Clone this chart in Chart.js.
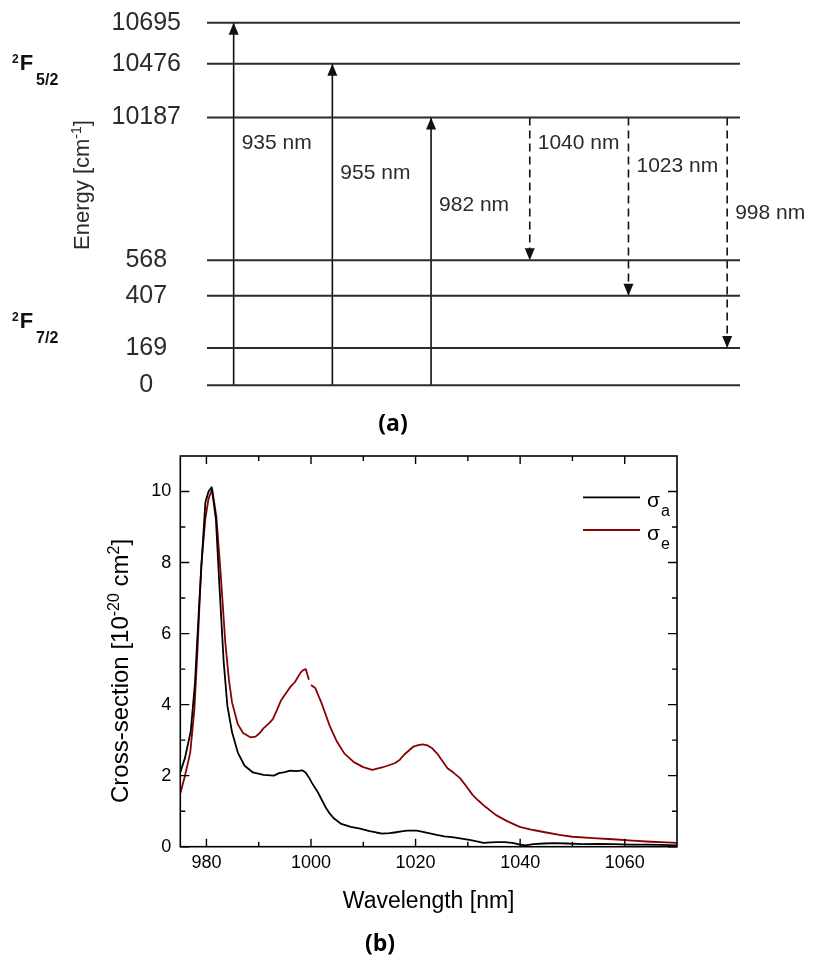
<!DOCTYPE html>
<html>
<head>
<meta charset="utf-8">
<script src="https://cdn.jsdelivr.net/npm/chart.js@4.4.1/dist/chart.umd.min.js"></script>
<style>
  html, body { margin: 0; padding: 0; background: #fff; }
  body { width: 822px; height: 956px; position: relative; overflow: hidden; }
  #wrapA { position: absolute; left: 0; top: 0; width: 822px; height: 410px; }
  #wrapB { position: absolute; left: 0; top: 440px; width: 822px; height: 516px; }
  .panel-tag {
    position: absolute; transform: translate(-50%, -50%);
    font-family: "Open Sans", "Liberation Sans", sans-serif; font-weight: 700; font-size: 23px; color: #000;
  }
</style>
</head>
<body>
<div id="wrapA"><canvas id="levels" width="822" height="410"></canvas></div>
<div id="wrapB"><canvas id="spectra" width="822" height="516"></canvas></div>
<div class="panel-tag" style="left:393px; top:422px;">(a)</div>
<div class="panel-tag" style="left:380px; top:942px;">(b)</div>

<script>
const FONT = '"Liberation Sans", Arial, sans-serif';

// ---------- Yb3+ Stark levels, cm^-1 ----------
const levelEnergies = [0, 169, 407, 568, 10187, 10476, 10695];
const manifoldTerms = ['5/2', '7/2'];
const manifoldLevels = [[10187, 10476, 10695], [0, 169, 407, 568]];

// ---------- transitions between the levels ----------
const transitionLabels = ['935 nm', '955 nm', '982 nm', '1040 nm', '1023 nm', '998 nm'];
const transitionFrom = [0, 0, 0, 10187, 10187, 10187];
const transitionTo = [10695, 10476, 10187, 568, 407, 169];
const transitionEmission = [false, false, false, true, true, true];

// ---------- absorption (sigma_a) and emission (sigma_e) cross-sections, 1e-20 cm^2 ----------
const wavelengthAbs = [975, 975.9, 977.0, 977.8, 978.6, 979.2, 979.8, 980.4, 981.0, 981.8, 982.5, 983.3, 984.0,
  984.9, 986.0, 987.3, 988.9, 990.9, 992.9, 993.9, 995.0, 996.0, 997.2, 998.4, 999.0, 999.6, 1000.2, 1001.4,
  1002.2, 1002.9, 1003.6, 1004.35, 1005.8, 1007.6, 1009.4, 1011.2, 1012.5, 1013.6, 1015.0, 1016.0, 1017.3,
  1018.4, 1020.2, 1021.4, 1022.5, 1024.0, 1025.5, 1027.3, 1028.8, 1030.3, 1031.7, 1033.0, 1034.4, 1035.7,
  1037.0, 1038.5, 1040.0, 1041.0, 1042.5, 1044.5, 1046.5, 1049.0, 1052.0, 1055.0, 1058.0, 1061.0, 1064.0,
  1067.0, 1070.0];
const sigmaAbs = [2.1, 2.5, 3.25, 4.6, 6.8, 8.3, 9.7, 10.0, 10.12, 9.24, 7.3, 5.2, 3.97,
  3.22, 2.65, 2.28, 2.09, 2.02, 2.0, 2.07, 2.1, 2.14, 2.13, 2.15, 2.08, 1.95, 1.79, 1.51,
  1.28, 1.08, 0.93, 0.8, 0.64, 0.56, 0.51, 0.44, 0.4, 0.37, 0.38, 0.4, 0.43,
  0.45, 0.45, 0.42, 0.38, 0.33, 0.29, 0.26, 0.23, 0.19, 0.15, 0.11, 0.12, 0.13,
  0.13, 0.11, 0.06, 0.04, 0.07, 0.09, 0.1, 0.09, 0.07, 0.08, 0.07, 0.06, 0.06,
  0.05, 0.04];

const wavelengthEm = [975, 975.9, 976.9, 977.7, 978.3, 979.0, 979.8, 980.4, 981.1, 981.9, 982.7, 983.6, 984.3,
  984.9, 986.0, 987.0, 988.4, 989.4, 990.2, 990.9, 992.0, 992.7, 993.5, 994.2, 995.1, 996.0, 996.9, 998.0,
  998.5, 999.0, 999.3, 999.6, 999.8, 1000.0, 1000.8, 1002.0, 1002.8, 1003.5, 1004.2, 1004.95, 1006.4, 1008.2,
  1010.0, 1011.7, 1013.6, 1016.0, 1017.0, 1017.8, 1019.6, 1020.5, 1021.35, 1022.3, 1023.1, 1024.3, 1025.2,
  1026.1, 1027.3, 1028.5, 1029.7, 1030.9, 1032.0, 1033.3, 1035.4, 1037.5, 1039.9, 1042.5, 1045.0, 1047.5,
  1050.0, 1054.0, 1057.7, 1061.5, 1065.0, 1068.0, 1070.0];
const sigmaEm = [1.5, 2.0, 2.65, 3.88, 5.57, 7.9, 9.24, 9.8, 10.06, 9.29, 7.73, 5.76, 4.7,
  4.06, 3.45, 3.2, 3.08, 3.1, 3.2, 3.33, 3.48, 3.59, 3.85, 4.1, 4.3, 4.49, 4.63, 4.9,
  4.97, 5.0, 4.85, 4.7, null, 4.55, 4.47, 4.05, 3.72, 3.43, 3.2, 2.96, 2.62, 2.38,
  2.24, 2.16, 2.23, 2.35, 2.45, 2.59, 2.82, 2.86, 2.88, 2.85, 2.78, 2.59, 2.4,
  2.21, 2.08, 1.93, 1.7, 1.46, 1.3, 1.13, 0.89, 0.72, 0.56, 0.47, 0.4, 0.33,
  0.28, 0.24, 0.21, 0.17, 0.14, 0.12, 0.11];

const seriesSubscripts = ['a', 'e'];
const wavelengthTicks = [980, 1000, 1020, 1040, 1060];
const wavelengthMinorTicks = [990, 1010, 1030, 1050];
const sigmaTicks = [0, 2, 4, 6, 8, 10];
const sigmaMinorTicks = [1, 3, 5, 7, 9];

// ---------- layout / style ----------
const ENERGY_SEGMENTS = [            // broken energy axis: lower manifold, then upper manifold
  { min: -40, max: 887, weight: 204 },
  { min: 9799, max: 10731.5, weight: 174 }
];
const DIAGRAM_X = { min: -0.27, max: 5.13 };
const LABEL_ALONG = [0.332, 0.34, 0.327, 0.178, 0.272, 0.414];  // label height along each arrow
const DARK = '#2b2b2b';

// rich text: parts drawn one after another on a common baseline
function drawRich(ctx, parts, x, y, opt) {
  ctx.save();
  ctx.translate(x, y);
  if (opt.rotate) ctx.rotate(opt.rotate);
  const fam = opt.family || FONT;
  const fontOf = p => `${p.weight || 'normal'} ${p.size}px ${fam}`;
  let total = 0;
  const widths = parts.map(p => { ctx.font = fontOf(p); const w = ctx.measureText(p.text).width + (p.dx || 0); total += w; return w; });
  let cx = opt.align === 'center' ? -total / 2 : 0;
  ctx.fillStyle = opt.color || '#000';
  ctx.textAlign = 'left';
  ctx.textBaseline = 'alphabetic';
  parts.forEach((p, i) => { ctx.font = fontOf(p); ctx.fillText(p.text, cx + (p.dx || 0), p.dy || 0); cx += widths[i]; });
  ctx.restore();
}

// linear scale with a break between the two manifolds
class BrokenLinearScale extends Chart.LinearScale {
  static id = 'brokenLinear';
  static defaults = {};
  _fraction(value) {
    const total = ENERGY_SEGMENTS.reduce((s, g) => s + g.weight, 0);
    let acc = 0;
    for (let i = 0; i < ENERGY_SEGMENTS.length; i++) {
      const g = ENERGY_SEGMENTS[i];
      if (value <= g.max || i === ENERGY_SEGMENTS.length - 1) {
        const v = Math.max(value, g.min);
        return (acc + (v - g.min) / (g.max - g.min) * g.weight) / total;
      }
      acc += g.weight;
    }
    return 1;
  }
  getPixelForValue(value) {
    if (value === null || value === undefined || isNaN(value)) return NaN;
    return this.bottom - this._fraction(value) * (this.bottom - this.top);
  }
  getValueForPixel(pixel) {
    const f = (this.bottom - pixel) / (this.bottom - this.top);
    const total = ENERGY_SEGMENTS.reduce((s, g) => s + g.weight, 0);
    let acc = 0;
    for (let i = 0; i < ENERGY_SEGMENTS.length; i++) {
      const g = ENERGY_SEGMENTS[i];
      const w = g.weight / total;
      if (f <= acc + w || i === ENERGY_SEGMENTS.length - 1) return g.min + (f - acc) / w * (g.max - g.min);
      acc += w;
    }
    return NaN;
  }
}
Chart.register(BrokenLinearScale);

// tick-label overhang is handled by the layout padding, not by the scale
function noOverhang(s) {
  s.paddingTop = 0; s.paddingBottom = 0; s.paddingLeft = 0; s.paddingRight = 0;
}

// ================= (a) energy level diagram =================
const levelSets = levelEnergies.map(E => ({
  data: [{ x: DIAGRAM_X.min, y: E }, { x: DIAGRAM_X.max, y: E }],
  borderColor: DARK, borderWidth: 2, pointRadius: 0, clip: false
}));
const arrowSets = transitionLabels.map((lab, i) => ({
  label: lab,
  data: [{ x: i, y: transitionFrom[i] }, { x: i, y: transitionTo[i] }],
  borderColor: '#111', borderWidth: 1.6,
  borderDash: transitionEmission[i] ? [8, 5] : [],
  pointRadius: 0, clip: false, arrow: true
}));

const diagramDecor = {
  id: 'diagramDecor',
  afterDatasetsDraw(chart) {
    const ctx = chart.ctx;
    const yS = chart.scales.y;
    let k = 0;
    chart.data.datasets.forEach((ds, i) => {
      if (!ds.arrow) return;
      const pts = chart.getDatasetMeta(i).data;
      const a = pts[0], b = pts[1];
      const dir = Math.sign(b.y - a.y);
      ctx.save();
      ctx.fillStyle = '#111';
      ctx.beginPath();
      ctx.moveTo(b.x, b.y);
      ctx.lineTo(b.x - 5, b.y - dir * 12);
      ctx.lineTo(b.x + 5, b.y - dir * 12);
      ctx.closePath();
      ctx.fill();
      const top = Math.min(a.y, b.y), bot = Math.max(a.y, b.y);
      ctx.font = `21px ${FONT}`;
      ctx.fillStyle = DARK;
      ctx.textAlign = 'left';
      ctx.textBaseline = 'middle';
      ctx.fillText(ds.label, b.x + 8, top + LABEL_ALONG[k] * (bot - top));
      ctx.restore();
      k++;
    });

    // manifold terms 2F5/2 and 2F7/2
    manifoldTerms.forEach((term, m) => {
      const lv = manifoldLevels[m].slice().sort((p, q) => p - q);
      const mid = lv.length % 2 ? lv[(lv.length - 1) / 2] : (lv[lv.length / 2 - 1] + lv[lv.length / 2]) / 2;
      const base = yS.getPixelForValue(mid) + 6;
      drawRich(ctx, [
        { text: '2', size: 12, weight: 'bold', dy: -7 },
        { text: 'F', size: 22, weight: 'bold', dx: 1 },
        { text: term, size: 16, weight: 'bold', dy: 15, dx: 3 }
      ], 12, base, { color: '#111' });
    });

    // axis title
    drawRich(ctx, [
      { text: 'Energy [cm', size: 22 },
      { text: '-1', size: 14, dy: -8 },
      { text: ']', size: 22 }
    ], 89, 185, { rotate: -Math.PI / 2, align: 'center', color: DARK });
  }
};

new Chart(document.getElementById('levels'), {
  type: 'line',
  data: { datasets: [...levelSets, ...arrowSets] },
  options: {
    responsive: false, animation: false,
    layout: { padding: { top: 16, bottom: 16, left: 0, right: 82 } },
    plugins: { legend: { display: false }, tooltip: { enabled: false } },
    elements: { line: { tension: 0 } },
    scales: {
      x: { type: 'linear', min: DIAGRAM_X.min, max: DIAGRAM_X.max, display: false },
      y: {
        type: 'brokenLinear', min: ENERGY_SEGMENTS[0].min, max: ENERGY_SEGMENTS[1].max,
        afterBuildTicks: s => { s.ticks = levelEnergies.map(v => ({ value: v })); },
        afterFit: s => { s.width = 207; noOverhang(s); },
        grid: { display: false, drawTicks: false },
        border: { display: false },
        ticks: {
          autoSkip: false, crossAlign: 'center', padding: 26, color: DARK,
          font: { family: FONT, size: 25 },
          callback: v => String(v)
        }
      }
    }
  },
  plugins: [diagramDecor]
});

// ================= (b) cross-section spectra =================
const toPoints = (xs, ys) => xs.map((x, i) => ({ x, y: ys[i] }));

const spectraDecor = {
  id: 'spectraDecor',
  afterDatasetsDraw(chart) {
    const ctx = chart.ctx;
    const { left, right, top, bottom } = chart.chartArea;
    const xS = chart.scales.x, yS = chart.scales.y;
    ctx.save();
    ctx.strokeStyle = '#000';
    ctx.lineWidth = 1.6;
    ctx.strokeRect(left, top, right - left, bottom - top);
    ctx.lineWidth = 1.4;
    const tickX = (v, len) => {
      const px = xS.getPixelForValue(v);
      ctx.beginPath();
      ctx.moveTo(px, bottom); ctx.lineTo(px, bottom - len);
      ctx.moveTo(px, top); ctx.lineTo(px, top + len);
      ctx.stroke();
    };
    const tickY = (v, len) => {
      const py = yS.getPixelForValue(v);
      ctx.beginPath();
      ctx.moveTo(left, py); ctx.lineTo(left + len, py);
      ctx.moveTo(right, py); ctx.lineTo(right - len, py);
      ctx.stroke();
    };
    wavelengthTicks.forEach(v => tickX(v, 8));
    wavelengthMinorTicks.forEach(v => tickX(v, 5));
    sigmaTicks.forEach(v => tickY(v, 9));
    sigmaMinorTicks.forEach(v => tickY(v, 5));

    // legend
    chart.data.datasets.forEach((ds, i) => {
      const ly = top + 41.3 + i * 32.7;
      ctx.strokeStyle = ds.borderColor;
      ctx.lineWidth = 1.8;
      ctx.beginPath();
      ctx.moveTo(right - 94, ly); ctx.lineTo(right - 37, ly);
      ctx.stroke();
      drawRich(ctx, [
        { text: 'σ', size: 21 },
        { text: seriesSubscripts[i], size: 16, dy: 8.7, dx: 1 }
      ], right - 30, ly + 10, { color: '#000' });
    });
    ctx.restore();

    drawRich(ctx, [{ text: 'Wavelength [nm]', size: 23 }], (left + right) / 2, bottom + 61.3,
      { align: 'center', color: '#000' });
    drawRich(ctx, [
      { text: 'Cross-section [10', size: 24 },
      { text: '-20', size: 16, dy: -9 },
      { text: ' cm', size: 24 },
      { text: '2', size: 16, dy: -9 },
      { text: ']', size: 24 }
    ], 128, (top + bottom) / 2 + 19.6, { rotate: -Math.PI / 2, align: 'center', color: '#000' });
  }
};

new Chart(document.getElementById('spectra'), {
  type: 'line',
  data: {
    datasets: [
      { label: 'σa', data: toPoints(wavelengthAbs, sigmaAbs), borderColor: '#000000', borderWidth: 1.8,
        pointRadius: 0, spanGaps: false },
      { label: 'σe', data: toPoints(wavelengthEm, sigmaEm), borderColor: '#8b0000', borderWidth: 1.8,
        pointRadius: 0, spanGaps: false }
    ]
  },
  options: {
    responsive: false, animation: false,
    layout: { padding: { top: 16, bottom: 0, left: 0, right: 145 } },
    plugins: { legend: { display: false }, tooltip: { enabled: false } },
    elements: { line: { tension: 0, borderJoinStyle: 'round' } },
    scales: {
      x: {
        type: 'linear', min: 975, max: 1070,
        afterBuildTicks: s => { s.ticks = wavelengthTicks.map(v => ({ value: v })); },
        afterFit: s => { s.height = 109.3; noOverhang(s); },
        grid: { display: false, drawTicks: false },
        border: { display: false },
        ticks: { autoSkip: false, maxRotation: 0, padding: 6, color: '#000', font: { family: FONT, size: 18 },
          callback: v => String(v) }
      },
      y: {
        type: 'linear', min: 0, max: 11,
        afterBuildTicks: s => { s.ticks = sigmaTicks.map(v => ({ value: v })); },
        afterFit: s => { s.width = 180.3; noOverhang(s); },
        grid: { display: false, drawTicks: false },
        border: { display: false },
        ticks: { autoSkip: false, padding: 9, color: '#000', font: { family: FONT, size: 18 },
          callback: v => String(v) }
      }
    }
  },
  plugins: [spectraDecor]
});
</script>
</body>
</html>
